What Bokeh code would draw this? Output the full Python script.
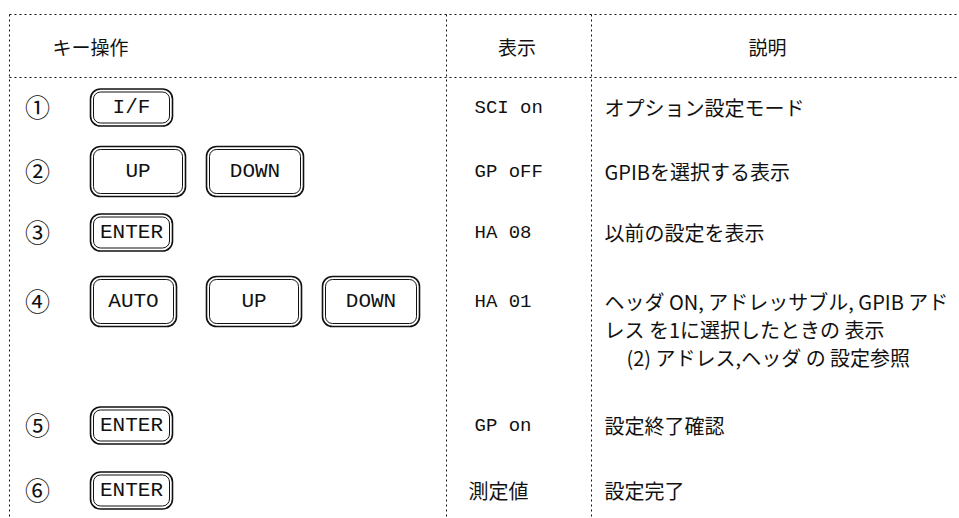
from bokeh.plotting import figure
from bokeh.models import Range1d, ColumnDataSource
from bokeh.core.properties import value
from bokeh.embed import file_html
from bokeh.resources import INLINE

# ---------------- data ----------------
headers = ["キー操作", "表示", "説明"]
steps = ["①", "②", "③", "④", "⑤", "⑥"]
keys = [["I/F"], ["UP", "DOWN"], ["ENTER"], ["AUTO", "UP", "DOWN"], ["ENTER"], ["ENTER"]]
displays = ["SCI on", "GP oFF", "HA 08", "HA 01", "GP on", "測定値"]
descriptions = [
    ["オプション設定モード"],
    ["GPIBを選択する表示"],
    ["以前の設定を表示"],
    ["ヘッダ ON, アドレッサブル, GPIB アド",
     "レス を1に選択したときの 表示",
     "(2) アドレス,ヘッダ の 設定参照"],
    ["設定終了確認"],
    ["設定完了"],
]

# ---------------- layout (page pixel coordinates) ----------------
W, H = 959, 518
X0, Y0 = 0, 0
row_y = [107, 171, 232, 301, 425, 490]
line_gap = 28
sub_indent = [0, 0, 22]          # indent of continuation lines in a description cell
top_y, head_y, head_sep = 14, 46, 77
left_x, sep1, sep2, right_x, bottom_y = 9, 446, 591, 959, 518
step_x = 37
slot_x0, slot_pitch = 90, 116
key_w = {"I/F": 82, "ENTER": 82, "AUTO": 86, "UP": 95, "DOWN": 97}
key_h = {"I/F": 37, "ENTER": 37, "AUTO": 50, "UP": 50, "DOWN": 50}
disp_x = 474
desc_x = 604
INK = "#111111"
JP = value("Noto Sans CJK JP")
MONO = value("Liberation Mono")

p = figure(width=W, height=H, output_backend="svg", toolbar_location=None,
           x_range=Range1d(X0, X0 + W), y_range=Range1d(Y0 + H, Y0),
           min_border=0, outline_line_color=None)
p.axis.visible = False
p.grid.visible = False
p.background_fill_color = "white"
p.border_fill_color = "white"

# dotted table rules
p.segment(x0=[left_x, left_x, left_x, sep1, sep2],
          y0=[top_y, head_sep, top_y, top_y, top_y],
          x1=[right_x, right_x, left_x, sep1, sep2],
          y1=[top_y, head_sep, bottom_y, bottom_y, bottom_y],
          line_color=INK, line_width=1, line_dash="2 3")

# header texts
p.text(x=[52], y=[head_y], text=[headers[0]], text_font=JP, text_font_size="19px",
       text_align="left", text_baseline="middle", text_color=INK)
p.text(x=[(sep1 + sep2) / 2 - 2, (sep2 + right_x) / 2 - 8], y=[head_y, head_y],
       text=headers[1:], text_font=JP, text_font_size="19px",
       text_align="center", text_baseline="middle", text_color=INK)

# step numbers
p.text(x=[step_x] * len(steps), y=[v - 2 for v in row_y], text=steps, text_font=JP,
       text_font_size="25px", text_align="center", text_baseline="middle", text_color=INK)

# key buttons
bl, br, bt, bb, bx, by, bk = [], [], [], [], [], [], []
for ry, row in zip(row_y, keys):
    for i, k in enumerate(row):
        l = slot_x0 + i * slot_pitch
        w, h = key_w[k], key_h[k]
        bl.append(l); br.append(l + w)
        bt.append(ry - h / 2); bb.append(ry + h / 2)
        bx.append(l + w / 2); by.append(ry); bk.append(k)
btn = ColumnDataSource(dict(left=bl, right=br, top=bt, bottom=bb))
p.quad(left="left", right="right", top="top", bottom="bottom", source=btn,
       fill_color=None, line_color=INK, line_width=1.6, border_radius=10)
inner = ColumnDataSource(dict(left=[v + 3 for v in bl], right=[v - 3 for v in br],
                              top=[v + 3 for v in bt], bottom=[v - 3 for v in bb]))
p.quad(left="left", right="right", top="top", bottom="bottom", source=inner,
       fill_color=None, line_color=INK, line_width=1.0, border_radius=7)
p.text(x=bx, y=by, text=bk, text_font=MONO, text_font_size="21px",
       text_align="center", text_baseline="middle", text_color=INK)

# display column
lat = [i for i, d in enumerate(displays) if d.isascii()]
jp = [i for i, d in enumerate(displays) if not d.isascii()]
p.text(x=[disp_x] * len(lat), y=[row_y[i] for i in lat], text=[displays[i] for i in lat],
       text_font=MONO, text_font_size="19px", text_align="left",
       text_baseline="middle", text_color=INK)
p.text(x=[disp_x - 6] * len(jp), y=[row_y[i] for i in jp], text=[displays[i] for i in jp],
       text_font=JP, text_font_size="20px", text_align="left",
       text_baseline="middle", text_color=INK)

# description column
dx, dy, dt = [], [], []
for ry, lines in zip(row_y, descriptions):
    for j, t in enumerate(lines):
        dx.append(desc_x + sub_indent[j]); dy.append(ry + j * line_gap); dt.append(t)
p.text(x=dx, y=dy, text=dt, text_font=JP, text_font_size="20px",
       text_align="left", text_baseline="middle", text_color=INK)

open("out.html", "w").write(file_html(p, INLINE))
